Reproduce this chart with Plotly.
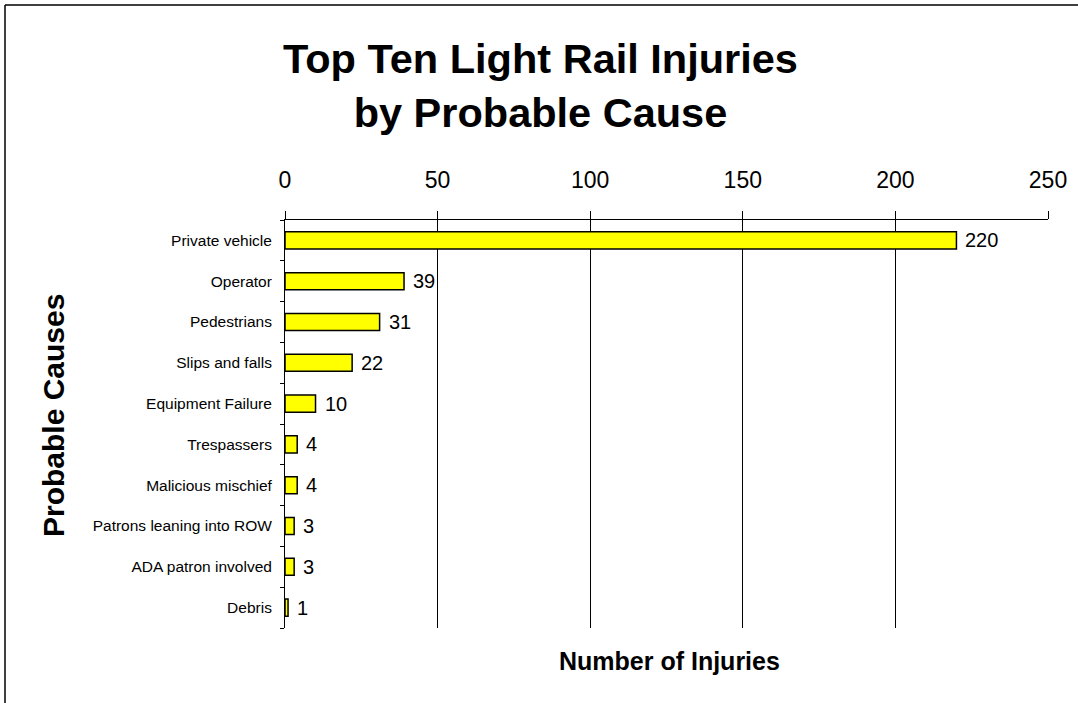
import plotly.graph_objects as go

categories = ["Private vehicle", "Operator", "Pedestrians", "Slips and falls",
              "Equipment Failure", "Trespassers", "Malicious mischief",
              "Patrons leaning into ROW", "ADA patron involved", "Debris"]
injuries = [220, 39, 31, 22, 10, 4, 4, 3, 3, 1]
x_ticks = [0, 50, 100, 150, 200, 250]

font = "Liberation Sans, Arial, sans-serif"

L, R, T, B = 285, 30, 220, 75
PW, PH = 1078 - L - R, 703 - T - B


def px_x(px):
    return (px - L) / PW


def px_y(py):
    return (703 - B - py) / PH


fig = go.Figure()
fig.add_trace(go.Bar(
    x=injuries, y=categories, orientation="h",
    marker=dict(color="#FFFF00", line=dict(color="black", width=1.5)),
    width=0.42,
    hoverinfo="skip",
))

for cat, val in zip(categories, injuries):
    fig.add_annotation(
        x=val, y=cat, xref="x", yref="y", text=str(val),
        xanchor="left", yanchor="middle", xshift=7, showarrow=False,
        font=dict(size=20, family=font, color="black"),
    )

fig.update_layout(
    width=1078, height=703,
    margin=dict(l=L, r=R, t=T, b=B),
    paper_bgcolor="white", plot_bgcolor="white",
    showlegend=False,
    font=dict(family=font, color="black"),
    xaxis=dict(
        side="top", range=[0, 250], tickvals=x_ticks,
        ticktext=[str(t) for t in x_ticks],
        tickfont=dict(size=23, family=font),
        showgrid=True, gridcolor="black", gridwidth=1,
        showline=True, linecolor="black", linewidth=1,
        ticks="outside", ticklen=8, tickcolor="black",
        ticklabelstandoff=14,
        zeroline=False, fixedrange=True,
    ),
    yaxis=dict(
        categoryorder="array", categoryarray=categories[::-1],
        tickfont=dict(size=15.5, family=font),
        showline=True, linecolor="black", linewidth=1,
        ticks="outside", ticklen=4, tickcolor="black",
        tickson="boundaries", showgrid=False,
        ticklabelstandoff=9,
    ),
)

# outer border (left and top edges visible)
fig.add_shape(type="line", xref="paper", yref="paper",
              x0=px_x(5), x1=px_x(1100), y0=px_y(5), y1=px_y(5),
              line=dict(color="black", width=1.5))
fig.add_shape(type="line", xref="paper", yref="paper",
              x0=px_x(5), x1=px_x(5), y0=px_y(5), y1=px_y(720),
              line=dict(color="black", width=1.5))

fig.add_annotation(
    text="<b>Top Ten Light Rail Injuries<br>by Probable Cause</b>",
    xref="paper", yref="paper",
    x=px_x(540), y=px_y(85),
    xanchor="center", yanchor="middle", showarrow=False,
    font=dict(size=41.5, family=font, color="black"),
)
fig.add_annotation(
    text="<b>Number of Injuries</b>",
    xref="paper", yref="paper",
    x=px_x(669), y=px_y(661),
    xanchor="center", yanchor="middle", showarrow=False,
    font=dict(size=25, family=font, color="black"),
)
fig.add_annotation(
    text="<b>Probable Causes</b>",
    xref="paper", yref="paper",
    x=px_x(53), y=px_y(416), textangle=-90,
    xanchor="center", yanchor="middle", showarrow=False,
    font=dict(size=30, family=font, color="black"),
)

fig.write_html("out.html")
